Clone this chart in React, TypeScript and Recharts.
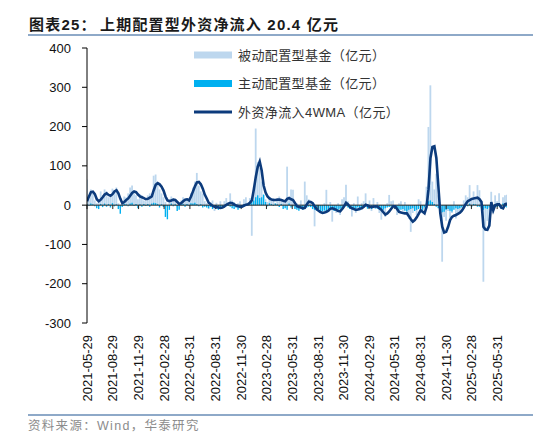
import {
  Bar,
  ComposedChart,
  Line,
  ReferenceLine,
  XAxis,
  YAxis,
} from 'recharts';

// weekly series, week 0 = 2021-05-29
const passive = [
  65, 15, 40, 30, 12, 5, 8, 35, 25, 40,
  35, 20, 25, 42, 38, 45, 5, -8, 10, 22,
  20, 30, 45, 50, 30, 25, 15, 28, 25, 12,
  10, 25, 30, 20, 75, 78, 55, 40, 30, 20,
  8, -5, 15, 22, 18, 10, -6, 5, 12, 20,
  15, 18, 12, 30, 45, 60, 82, 50, 35, 30,
  10, 5, -10, 8, 12, -15, 6, -8, 10, -5,
  10, 18, 6, 30, 12, 8, -6, 5, 10, -4,
  15, 20, 6, 18, -78, 45, 195, 110, 95, 60,
  25, 15, 8, 20, 12, 18, 5, 15, 22, 10,
  8, 12, 98, 15, 40, 39, -8, 5, -6, 12,
  -10, 60, 25, 15, 8, -5, -54, -10, -8, -20,
  -12, 5, 39, -10, 8, -42, -15, -20, 5, -25,
  15, 20, 52, 10, -5, -29, 5, -20, 22, -15,
  5, 10, 30, -8, 12, -15, 18, -10, 8, -20,
  -37, -20, -30, 5, 26, 10, 12, -10, -25, 5,
  10, -15, 8, -20, -35, -68, -20, -10, -25, 15,
  10, -20, -10, 47, 199, 305, 60, 40, 80, 25,
  -20, -144, -30, -40, -15, -34, -20, 10, -34, -25,
  -15, -5, 12, 25, 20, 51, 15, 35, 18, 51,
  38, 10, -195, -64, -40, -50, 34, -20, 25, 10,
  30, -10, 20, 25, 26.4,
];

const active = [
  3, -2, 4, 2, -3, -8, -10, 3, -5, 4,
  -4, 3, -6, 5, -3, 2, -10, -22, -5, 3,
  2, -3, 4, 6, -2, 3, -8, 2, -4, 3,
  -2, 3, -4, 4, 6, 5, 3, -6, 2, -5,
  -30, -36, -12, 4, -3, 2, -15, -12, 2, 3,
  -4, 3, -2, 5, 4, 6, 3, -3, 2, -6,
  -4, -6, -8, -5, -10, -6, -9, -12, -7, -5,
  -6, -3, -2, -4, -8, -10, -6, -12, -8, -3,
  -5, -2, 3, 5, 8, 12, 20, 25, 18, 20,
  27, 8, -3, 5, 3, -2, 4, 2, -5, 3,
  -10, -8, -12, 4, -6, -3, -10, -12, -14, -9,
  -12, -8, -6, -4, -5, -10, -12, -14, -10, -15,
  -16, -14, -18, -12, -10, -8, -14, -10, -12, -9,
  -8, -5, -3, -6, -10, -8, -12, -9, -6, -10,
  -8, -6, -4, -9, -7, -10, -6, -8, -9, -12,
  -10, -12, -8, -6, -5, -4, -6, -8, -10, -12,
  -12, -10, -14, -16, -12, -10, -8, -15, -12, -10,
  -8, -12, -6, 5, 10, 12, 8, 3, -4, -8,
  -15, -18, -17, -12, -10, -14, -16, -12, -8, -10,
  -8, -6, -4, 2, -3, 4, -5, 3, 2, -4,
  -4, -6, -12, -8, -10, -6, 5, -8, 3, -5,
  -3, -8, 4, -5, -6,
];

const wma4 = [
  10, 22, 33, 34, 28, 15, 10, 14, 20, 27,
  30, 26, 24, 28, 35, 38, 30, 16, 5, 8,
  13, 17, 24, 31, 35, 33, 27, 22, 20, 18,
  15, 16, 19, 22, 38, 52, 56, 53, 47, 37,
  22, 12, 10, 12, 14, 13, 8, 3, 5, 10,
  14, 15, 12, 22, 35, 48, 58, 59, 53, 42,
  27, 17, 6, 2, -2, -4, -5, -6, -7, -6,
  -3, 1, 4, 6, 5, 2, -1, -3, -4, -4,
  -1, 1, 2, 6, 12, 40, 72, 98, 111, 88,
  50, 32, 22, 17, 14, 13, 13, 14, 14, 13,
  11, 10, 16, 18, 15, 13, 5, -3, -5, -6,
  -8, -7, 2, 9, 8, 5, -3, -10, -14, -18,
  -20, -19, -17, -14, -9, -8, -10, -12, -15, -16,
  -10, -3, 6, 2, -5, -8, -10, -12, -11, -9,
  -8, -4, 1, -1, -4, -5, -4, -3, -4, -8,
  -12, -18, -24, -21, -16, -9, -3, -3, -10, -17,
  -19, -20, -21, -21, -28, -36, -42, -38, -31, -22,
  -13, -17, -21, -5, 40, 120, 148, 150, 120, 50,
  -20, -55, -70, -68, -55, -38, -30, -27, -25, -22,
  -19, -14, -6, 3, 10, 13, 16, 17, 18, 19,
  15, 8, -55, -62, -63, -52, 8, -13, 0, 2,
  2, -6, -8, 2, 4,
];

const startDate = '2021-05-29';
const tickDates = [
  '2021-05-29', '2021-08-29', '2021-11-29', '2022-02-28', '2022-05-31',
  '2022-08-31', '2022-11-30', '2023-02-28', '2023-05-31', '2023-08-31',
  '2023-11-30', '2024-02-29', '2024-05-31', '2024-08-31', '2024-11-30',
  '2025-02-28', '2025-05-31',
];
const yTicks = [-300, -200, -100, 0, 100, 200, 300, 400];

const WEEK = 7 * 24 * 3600 * 1000;
const tickWeeks = tickDates.map((d) => (Date.parse(d) - Date.parse(startDate)) / WEEK);

const data = passive.map((p, i) => ({
  w: i,
  passive: p,
  active: active[i],
  wma: wma4[i],
}));

const AXIS_FONT = '"Liberation Sans", Arial, sans-serif';
const CJK_FONT = '"Liberation Sans", "Noto Sans CJK SC", sans-serif';

const DateTick = (props: any) => {
  const { x, y, payload } = props;
  let idx = 0;
  tickWeeks.forEach((t, i) => {
    if (Math.abs(t - payload.value) < Math.abs(tickWeeks[idx] - payload.value)) idx = i;
  });
  return (
    <text
      x={0}
      y={0}
      transform={`translate(${x},${y + 10}) rotate(-90)`}
      textAnchor="end"
      dominantBaseline="central"
      fontSize={13}
      fontFamily={AXIS_FONT}
      fill="#111"
    >
      {tickDates[idx]}
    </text>
  );
};

const legendItems = [
  { label: '被动配置型基金（亿元）', color: '#bdd7ee', kind: 'bar' },
  { label: '主动配置型基金（亿元）', color: '#00b0f0', kind: 'bar' },
  { label: '外资净流入4WMA（亿元）', color: '#0c3b7c', kind: 'line' },
];

const Overlay = () => (
  <svg
    width={550}
    height={448}
    style={{ position: 'absolute', left: 0, top: 0, pointerEvents: 'none' }}
  >
    <text x={29} y={24} dominantBaseline="central" fontSize={15} fontWeight="bold"
      fontFamily={CJK_FONT} fill="#1a1a1a" letterSpacing={1.2}>
      图表25：
    </text>
    <text x={100} y={24} dominantBaseline="central" fontSize={15} fontWeight="bold"
      fontFamily={CJK_FONT} fill="#1a1a1a" letterSpacing={1.2}>
      上期配置型外资净流入 20.4 亿元
    </text>
    <rect x={28} y={34} width={505} height={2} fill="#8ea9c8" />
    <rect x={28} y={414} width={505} height={2} fill="#8ea9c8" />
    <text x={28} y={426} dominantBaseline="central" fontSize={12.5}
      fontFamily={CJK_FONT} fill="#8c8c8c" letterSpacing={1.3}>
      资料来源：Wind，华泰研究
    </text>
    {legendItems.map((it, i) => {
      const cy = 55 + i * 28.5;
      return (
        <g key={it.label}>
          {it.kind === 'bar' ? (
            <rect x={194} y={cy - 3.5} width={38} height={7} fill={it.color} />
          ) : (
            <line x1={194} x2={232} y1={cy} y2={cy} stroke={it.color} strokeWidth={3} />
          )}
          <text x={238} y={cy} dominantBaseline="central" fontSize={13}
            fontFamily={CJK_FONT} fill="#333" letterSpacing={0.4}>
            {it.label}
          </text>
        </g>
      );
    })}
  </svg>
);

export default function App() {
  return (
    <div style={{ position: 'absolute', left: 0, top: 0, width: 550, height: 448, background: '#fff' }}>
      <ComposedChart
        width={550}
        height={448}
        data={data}
        margin={{ top: 48, right: 43, bottom: 0, left: 0 }}
        barGap={-1.6}
      >
        <XAxis
          type="number"
          dataKey="w"
          domain={[0, passive.length - 1]}
          ticks={tickWeeks}
          interval={0}
          axisLine={false}
          tickLine={false}
          tickSize={0}
          height={125}
          tick={<DateTick />}
          allowDataOverflow
        />
        <YAxis
          domain={[-300, 400]}
          ticks={yTicks}
          interval={0}
          width={87}
          tickSize={5}
          tickMargin={11}
          axisLine={{ stroke: '#000' }}
          tickLine={{ stroke: '#000' }}
          tick={{ fontSize: 13, fill: '#111', fontFamily: AXIS_FONT }}
        />
        <Bar dataKey="passive" fill="#bdd7ee" barSize={1.8} isAnimationActive={false} />
        <Bar dataKey="active" fill="#00b0f0" barSize={1.4} isAnimationActive={false} />
        <ReferenceLine y={0} stroke="#222" strokeWidth={1} />
        {tickWeeks.map((t) => (
          <ReferenceLine
            key={t}
            segment={[{ x: t, y: 0 }, { x: t, y: -10 }]}
            stroke="#222"
          />
        ))}
        <Line
          type="linear"
          dataKey="wma"
          stroke="#0c3b7c"
          strokeWidth={2.6}
          dot={false}
          isAnimationActive={false}
        />
      </ComposedChart>
      <Overlay />
    </div>
  );
}
